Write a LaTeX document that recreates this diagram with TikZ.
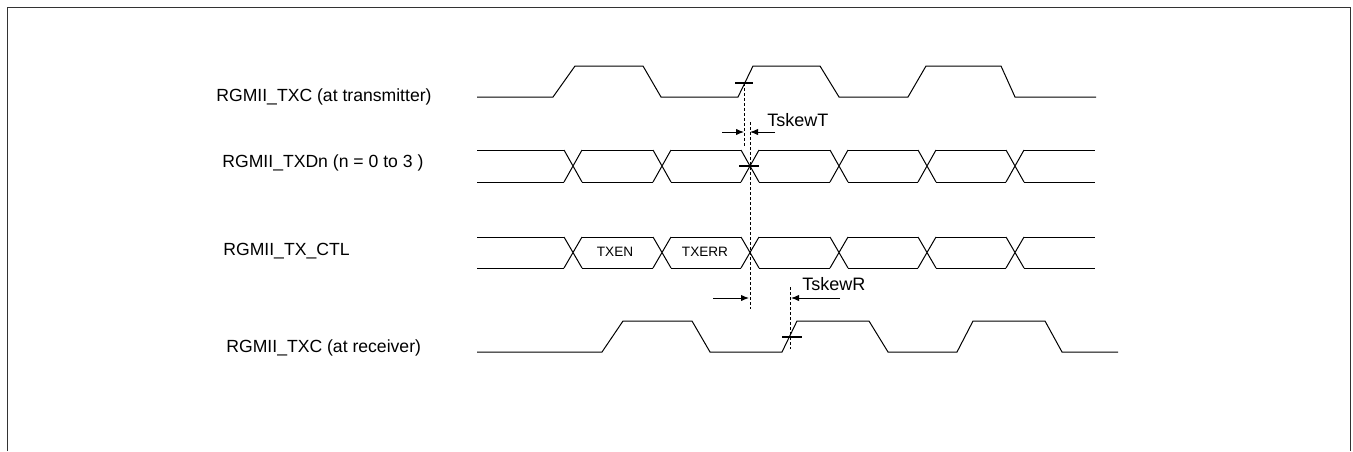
\documentclass[tikz,border=0pt]{standalone}
\usepackage{fontspec}
\setmainfont{Liberation Sans}
\usepackage{tikz}
\usetikzlibrary{arrows.meta,positioning}

\begin{document}
\begin{tikzpicture}
			[x=0.5pt, y=-0.5pt, inner sep=0pt,
			signal/.style		= {draw, black, line width=0.5pt, line join=miter},
			sigtitle/.style		= {anchor=west, font=\fontsize{8.8pt}{10pt}\selectfont},
			field/.style		= {font=\fontsize{6.8pt}{8pt}\selectfont},
			skewtext/.style		= {anchor=west, font=\fontsize{9pt}{10pt}\selectfont},
			marker/.style		= {draw, black, line width=0.8pt},
			guide/.style		= {draw, black, line width=0.5pt, dash pattern=on 1.5pt off 1pt},
			skewarrow/.style	= {draw, black, line width=0.5pt, -{Latex[length=4pt,width=3.2pt]}}]

			\useasboundingbox (0,0) rectangle (1353,451);
			\draw [line width=0.5pt, black!80] (7,451) -- (7,7) -- (1350,7) -- (1350,451);

			\node [sigtitle] at (216,97)	(txc)	{RGMII\_TXC (at transmitter)};
			\node [sigtitle] at (222,163)	(txd)	{RGMII\_TXDn (n = 0 to 3 )};
			\node [sigtitle] at (223,251)	(ctl)	{RGMII\_TX\_CTL};
			\node [sigtitle] at (226,348)	(rxc)	{RGMII\_TXC (at receiver)};

			\draw [signal] (477,97) -- (553,97) -- (575,66) -- (643,66) -- (661,97) -- (738,97) -- (753,66) -- (820,66)
				-- (839,97) -- (908,97) -- (926,66) -- (1001,66) -- (1015,97) -- (1096,97);

			\foreach \top/\bot in {150/182, 237/268}
			{
				\foreach \a/\b in {477/564, 582/653, 671/741, 759/830, 848/918, 936/1006, 1024/1095}
					\draw [signal] (\a,\top) -- (\b,\top) (\a,\bot) -- (\b,\bot);
				\foreach \c in {573, 662, 750, 839, 927, 1015}
					\draw [signal] (\c-9,\top) -- (\c+9,\bot) (\c-9,\bot) -- (\c+9,\top);
			}

			\node [field] at (615,252)	(txen)	{TXEN};
			\node [field] at (705,252)	(txerr)	{TXERR};

			\draw [signal] (477,352) -- (602,352) -- (623,321) -- (692,321) -- (710,352) -- (782,352) -- (797,321) -- (869,321)
				-- (888,352) -- (957,352) -- (973,321) -- (1045,321) -- (1062,352) -- (1118,352);

			\coordinate (edgeT)	at (744,83);
			\coordinate (edgeD)	at (750,166);
			\coordinate (edgeR)	at (790,337);

			\draw [marker] (735,83) -- (753,83);
			\draw [marker] (739,166) -- (759,166);
			\draw [marker] (782,337) -- (802,337);

			\draw [guide] (edgeT) -- (744,147);
			\draw [guide] (750,122) -- (750,309);
			\draw [guide] (790,287) -- (790,349);

			\coordinate (tl) at (722,132);
			\coordinate (tr) at (775,132);
			\coordinate (rl) at (713,298);
			\coordinate (rr) at (840,298);

			\draw [skewarrow] (tl) -- (744,132);
			\draw [skewarrow] (tr) -- (750,132);
			\draw [skewarrow] (rl) -- (749,298);
			\draw [skewarrow] (rr) -- (791,298);

			\node [skewtext] at (767,120)	(skewt)	{TskewT};
			\node [skewtext] at (802,284)	(skewr)	{TskewR};
\end{tikzpicture}
\end{document}
